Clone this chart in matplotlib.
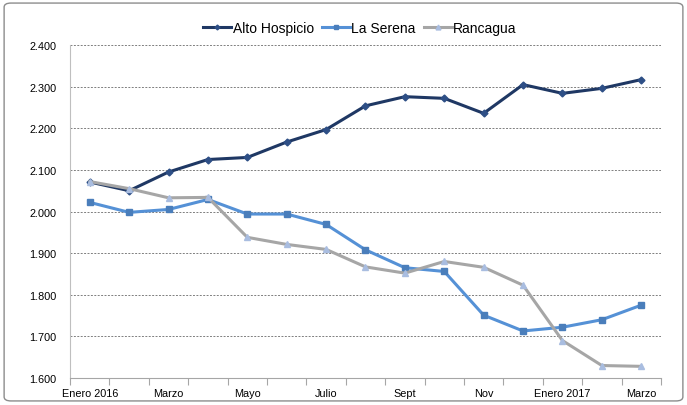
import matplotlib.pyplot as plt
from matplotlib.patches import FancyBboxPatch
from matplotlib.ticker import FuncFormatter
import numpy as np

plt.rcParams['font.family'] = ['Liberation Sans Narrow', 'Liberation Sans', 'DejaVu Sans']

months = ["Enero 2016", "Feb", "Marzo", "Abr", "Mayo", "Jun", "Julio", "Ago",
          "Sept", "Oct", "Nov", "Dic", "Enero 2017", "Feb", "Marzo"]
alto_hospicio = [2.071, 2.050, 2.095, 2.125, 2.130, 2.167, 2.197, 2.254,
                 2.276, 2.272, 2.236, 2.305, 2.284, 2.296, 2.317]
la_serena = [2.022, 1.998, 2.005, 2.029, 1.994, 1.994, 1.969, 1.908,
             1.865, 1.856, 1.751, 1.713, 1.722, 1.740, 1.775]
rancagua = [2.072, 2.055, 2.033, 2.034, 1.938, 1.921, 1.909, 1.867,
            1.852, 1.880, 1.866, 1.823, 1.690, 1.630, 1.628]

x = np.arange(len(months))

fig = plt.figure(figsize=(6.87, 4.06), dpi=100)
border = FancyBboxPatch((0.006, 0.01), 0.988, 0.98, boxstyle="round,pad=0,rounding_size=0.01",
                        transform=fig.transFigure, fill=False, edgecolor="#8c8c8c", linewidth=1.0)
fig.patches.append(border)

ax = fig.add_axes([0.102, 0.0665, 0.860, 0.820])

ax.plot(x, alto_hospicio, color="#1f3864", linewidth=2.2, marker="D", markersize=3.5,
        markerfacecolor="#2e4f86", markeredgecolor="#2e4f86", label="Alto Hospicio")
ax.plot(x, la_serena, color="#5591d6", linewidth=2.2, marker="s", markersize=5,
        markerfacecolor="#4a7ebb", markeredgecolor="#4a7ebb", label="La Serena")
ax.plot(x, rancagua, color="#a6a6a6", linewidth=2.2, marker="^", markersize=5,
        markerfacecolor="#a9bde0", markeredgecolor="#a9bde0", label="Rancagua")

ax.set_xlim(-0.5, len(months) - 0.5)
ax.set_ylim(1.6, 2.4)
ax.set_yticks(np.arange(1.6, 2.41, 0.1))
ax.yaxis.set_major_formatter(FuncFormatter(lambda v, p: f"{v:.3f}"))
ax.tick_params(axis="y", length=0, labelsize=7.8, pad=10)

ax.set_xticks(np.arange(-0.5, len(months), 1.0))
ax.set_xticklabels([])
ax.tick_params(axis="x", which="major", length=5, color="#a6a6a6", direction="out")
ax.set_xticks(x[::2], minor=True)
ax.set_xticklabels(months[::2], minor=True)
ax.tick_params(axis="x", which="minor", length=0, labelsize=7.8, pad=7)

ax.grid(axis="y", linestyle=(0, (2, 1.5)), color="#7f7f7f", linewidth=0.7)
ax.set_axisbelow(True)
for s in ["top", "right"]:
    ax.spines[s].set_visible(False)
ax.spines["left"].set_color("#bfbfbf")
ax.spines["bottom"].set_color("#a6a6a6")

fig.legend(loc="center", bbox_to_anchor=(0.524, 0.928), ncol=3, frameon=False,
           fontsize=10, handlelength=2.0, handletextpad=0.1, columnspacing=0.6,
           markerscale=0.7)

fig.savefig("out.png", dpi=100)
